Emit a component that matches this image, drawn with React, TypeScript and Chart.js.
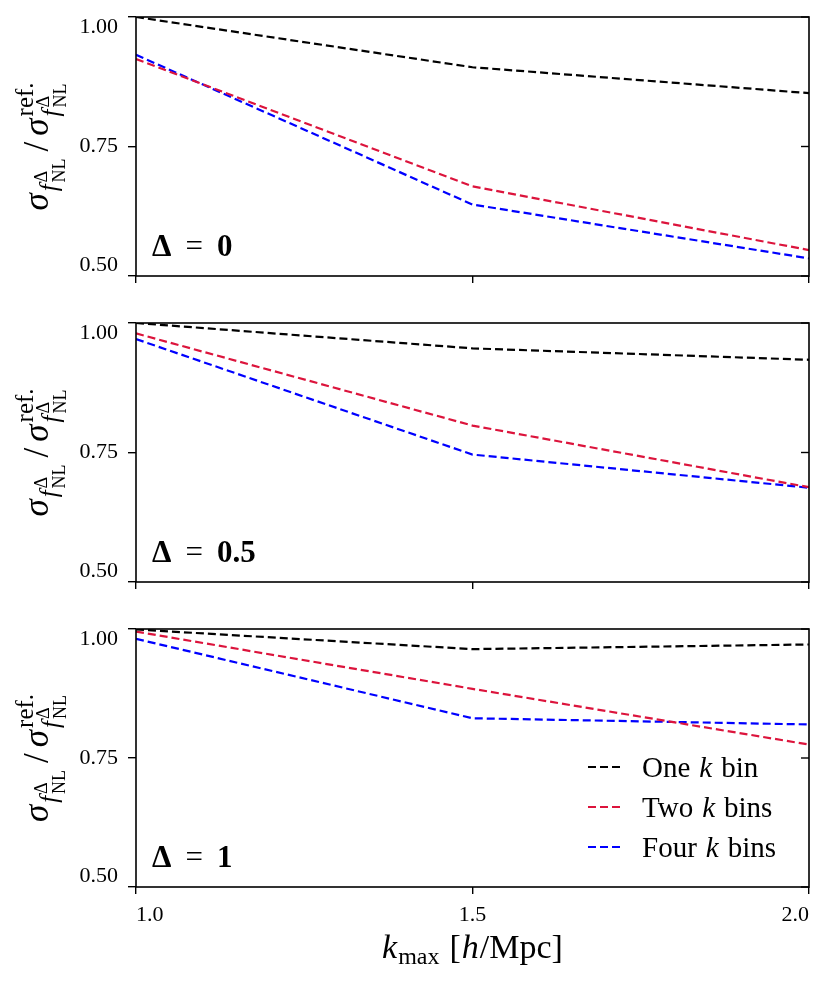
import { useEffect, useRef } from "react";
import { Chart, registerables, type ChartConfiguration, type Plugin } from "chart.js";

Chart.register(...registerables);

// x values (k_max in h/Mpc) and tick positions
const kMax = [1.0, 1.5, 2.0];
const xTicks = [1.0, 1.5, 2.0];
const yTicks = [0.5, 0.75, 1.0];

// Delta = 0
const oneBinD0 = [1.0, 0.903, 0.853];
const twoBinsD0 = [0.919, 0.673, 0.55];
const fourBinsD0 = [0.927, 0.638, 0.534];

// Delta = 0.5
const oneBinD05 = [1.0, 0.951, 0.929];
const twoBinsD05 = [0.98, 0.802, 0.683];
const fourBinsD05 = [0.969, 0.746, 0.682];

// Delta = 1
const oneBinD1 = [0.999, 0.961, 0.97];
const twoBinsD1 = [0.995, 0.884, 0.776];
const fourBinsD1 = [0.981, 0.827, 0.815];

const seriesLabels = ["One k bin", "Two k bins", "Four k bins"];
const seriesColors = ["#000000", "#dc143c", "#0000ff"];
const deltaLabels = ["0", "0.5", "1"];

const SERIF = '"Liberation Serif", "DejaVu Serif", serif';
const DASH = [8, 4];

const font = (size: number, italic = false, bold = false) =>
  `${italic ? "italic " : ""}${bold ? "bold " : ""}${size}px ${SERIF}`;

type Piece = { t: string; size: number; it?: boolean; b?: boolean; dx?: number; dy?: number };
type Column = { pieces: Piece[]; gap?: number };

function measure(ctx: CanvasRenderingContext2D, p: Piece) {
  ctx.font = font(p.size, p.it, p.b);
  return ctx.measureText(p.t).width;
}

function drawColumns(
  ctx: CanvasRenderingContext2D,
  cols: Column[],
  x: number,
  y: number,
  anchor: "left" | "center",
) {
  const widths = cols.map(
    (c) => Math.max(0, ...c.pieces.map((p) => (p.dx ?? 0) + measure(ctx, p))) + (c.gap ?? 0),
  );
  const total = widths.reduce((a, b) => a + b, 0);
  let cx = anchor === "center" ? x - total / 2 : x;
  ctx.textAlign = "left";
  ctx.textBaseline = "alphabetic";
  ctx.fillStyle = "#000";
  cols.forEach((c, i) => {
    for (const p of c.pieces) {
      ctx.font = font(p.size, p.it, p.b);
      ctx.fillText(p.t, cx + (p.dx ?? 0), y + (p.dy ?? 0));
    }
    cx += widths[i];
  });
}

// sigma_{f^Delta_NL} / sigma^{ref.}_{f^Delta_NL}, rotated
function drawYTitle(ctx: CanvasRenderingContext2D, x: number, cy: number) {
  const big = 35;
  const mid = 25;
  const small = 18;
  const fW = measure(ctx, { t: "f", size: mid, it: true }) + 2;
  const cols: Column[] = [
    { pieces: [{ t: "σ", size: big, it: true }], gap: 2 },
    { pieces: [{ t: "f", size: mid, it: true, dy: 9 }], gap: 2 },
    { pieces: [{ t: "Δ", size: small, dy: -1 }, { t: "NL", size: small, dy: 17 }], gap: 7 },
    { pieces: [{ t: "/", size: big }], gap: 6 },
    { pieces: [{ t: "σ", size: big, it: true }], gap: 2 },
    {
      pieces: [
        { t: "ref.", size: mid, dy: -15 },
        { t: "f", size: mid, it: true, dy: 11 },
        { t: "Δ", size: small, dx: fW, dy: 1 },
        { t: "NL", size: small, dx: fW, dy: 18 },
      ],
    },
  ];
  ctx.save();
  ctx.translate(x, cy);
  ctx.rotate(-Math.PI / 2);
  drawColumns(ctx, cols, 0, 0, "center");
  ctx.restore();
}

type PanelProps = {
  top: number;
  height: number;
  padTop: number;
  axisH: number;
  one: number[];
  two: number[];
  four: number[];
  delta: string;
  last: boolean;
};

function Panel({ top, height, padTop, axisH, one, two, four, delta, last }: PanelProps) {
  const canvasRef = useRef<HTMLCanvasElement | null>(null);

  useEffect(() => {
    const canvas = canvasRef.current;
    if (!canvas) {
      return;
    }
    const series = [one, two, four];

    const panelText: Plugin<"line"> = {
      id: "panelText",
      afterDraw(chart) {
        const { ctx, chartArea: a } = chart;
        const yScale = chart.scales.y;

        // frame and inward right ticks
        ctx.save();
        ctx.strokeStyle = "#000";
        ctx.lineWidth = 1.6;
        ctx.setLineDash([]);
        ctx.strokeRect(a.left, a.top, a.right - a.left, a.bottom - a.top);
        ctx.lineWidth = 1.4;
        for (const v of yTicks) {
          const py = yScale.getPixelForValue(v);
          ctx.beginPath();
          ctx.moveTo(a.right, py);
          ctx.lineTo(a.right - 8, py);
          ctx.stroke();
        }
        ctx.restore();

        ctx.save();
        drawColumns(
          ctx,
          [
            { pieces: [{ t: "Δ", size: 31, b: true }], gap: 14 },
            { pieces: [{ t: "=", size: 31 }], gap: 14 },
            { pieces: [{ t: delta, size: 31, b: true }] },
          ],
          a.left + 16,
          a.bottom - 20,
          "left",
        );
        drawYTitle(ctx, 48, (a.top + a.bottom) / 2);

        if (last) {
          // legend
          chart.data.datasets.forEach((ds, i) => {
            const ry = a.top + 138 + i * 40;
            ctx.strokeStyle = ds.borderColor as string;
            ctx.lineWidth = 2.2;
            ctx.setLineDash(DASH);
            ctx.beginPath();
            ctx.moveTo(588, ry);
            ctx.lineTo(620, ry);
            ctx.stroke();
            ctx.setLineDash([]);
            const [before, after] = String(ds.label).split(" k ");
            drawColumns(
              ctx,
              [
                { pieces: [{ t: before, size: 29 }], gap: 9 },
                { pieces: [{ t: "k", size: 29, it: true }], gap: 9 },
                { pieces: [{ t: after, size: 29 }] },
              ],
              642,
              ry + 10,
              "left",
            );
          });

          // x title
          drawColumns(
            ctx,
            [
              { pieces: [{ t: "k", size: 34, it: true }], gap: 1 },
              { pieces: [{ t: "max", size: 24, dy: 6 }], gap: 10 },
              { pieces: [{ t: "[", size: 34 }], gap: 1 },
              { pieces: [{ t: "h", size: 34, it: true }], gap: 1 },
              { pieces: [{ t: "/Mpc]", size: 34 }] },
            ],
            (a.left + a.right) / 2,
            352,
            "center",
          );
        }
        ctx.restore();
      },
    };

    const config: ChartConfiguration<"line"> = {
      type: "line",
      data: {
        datasets: series.map((vals, i) => ({
          label: seriesLabels[i],
          data: kMax.map((k, j) => ({ x: k, y: vals[j] })),
          borderColor: seriesColors[i],
          backgroundColor: seriesColors[i],
          borderWidth: 2.2,
          borderDash: DASH,
          pointRadius: 0,
          tension: 0,
          fill: false,
        })),
      },
      options: {
        responsive: true,
        maintainAspectRatio: false,
        animation: false,
        events: [],
        layout: { padding: { top: padTop, right: 18, bottom: 0, left: 0 } },
        plugins: {
          legend: { display: false },
          tooltip: { enabled: false },
        },
        scales: {
          x: {
            type: "linear",
            min: 1,
            max: 2,
            afterBuildTicks(scale) {
              scale.ticks = xTicks.map((v) => ({ value: v }));
            },
            afterFit(scale) {
              scale.height = axisH;
              scale.paddingLeft = 0;
              scale.paddingRight = 0;
              scale.paddingTop = 0;
              scale.paddingBottom = 0;
            },
            border: { display: false },
            grid: {
              drawOnChartArea: false,
              drawTicks: true,
              tickLength: 7,
              color: "#000",
              lineWidth: 1.4,
            },
            ticks: {
              autoSkip: false,
              maxRotation: 0,
              align: "inner",
              padding: 8,
              color: "#000",
              font: { family: SERIF, size: 22 },
              callback(value) {
                return last ? Number(value).toFixed(1) : "";
              },
            },
          },
          y: {
            type: "linear",
            min: 0.5,
            max: 1.0,
            afterBuildTicks(scale) {
              scale.ticks = yTicks.map((v) => ({ value: v }));
            },
            afterFit(scale) {
              scale.width = 136;
              scale.paddingLeft = 0;
              scale.paddingRight = 0;
              scale.paddingTop = 0;
              scale.paddingBottom = 0;
            },
            border: { display: false },
            grid: {
              drawOnChartArea: false,
              drawTicks: true,
              tickLength: 8,
              color: "#000",
              lineWidth: 1.4,
            },
            ticks: {
              autoSkip: false,
              padding: 10,
              color: "#000",
              font: { family: SERIF, size: 22, lineHeight: 0.95 },
              callback(value) {
                const v = Number(value);
                if (v === 0.5) return ["0.50", ""];
                if (v === 1) return ["", "1.00"];
                return v.toFixed(2);
              },
            },
          },
        },
      },
      plugins: [panelText],
    };

    const chart = new Chart(canvas, config);
    return () => {
      chart.destroy();
    };
  }, [axisH, delta, four, last, one, padTop, two]);

  return (
    <div style={{ position: "absolute", left: 0, top, width: 827, height }}>
      <canvas ref={canvasRef} />
    </div>
  );
}

export default function App() {
  return (
    <div
      style={{
        position: "absolute",
        left: 0,
        top: 0,
        width: 827,
        height: 987,
        background: "#fff",
        overflow: "hidden",
      }}
    >
      <Panel top={0} height={300} padTop={17} axisH={24} one={oneBinD0} two={twoBinsD0} four={fourBinsD0} delta={deltaLabels[0]} last={false} />
      <Panel top={300} height={306} padTop={23} axisH={24} one={oneBinD05} two={twoBinsD05} four={fourBinsD05} delta={deltaLabels[1]} last={false} />
      <Panel top={606} height={381} padTop={23} axisH={100} one={oneBinD1} two={twoBinsD1} four={fourBinsD1} delta={deltaLabels[2]} last={true} />
    </div>
  );
}
